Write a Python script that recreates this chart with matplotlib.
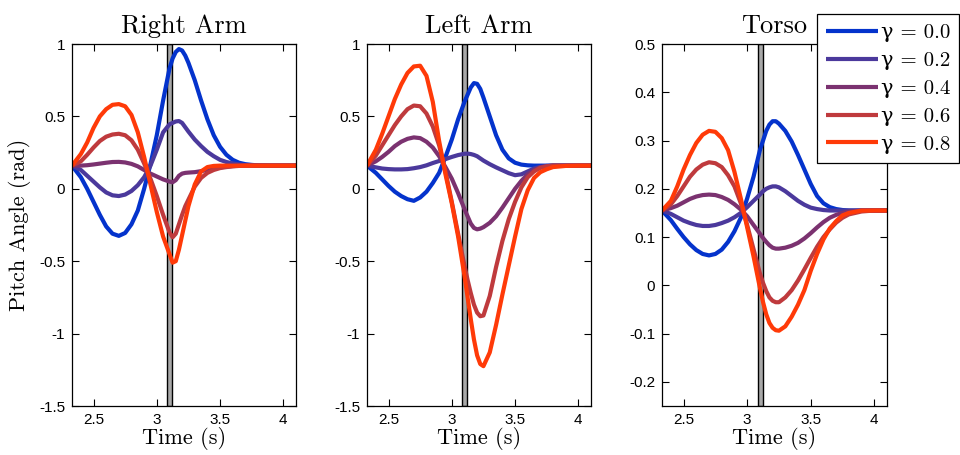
import numpy as np
import matplotlib
matplotlib.use("Agg")
import matplotlib.pyplot as plt

# sample times (s) shared by every curve
time = [2.33, 2.40, 2.45, 2.50, 2.55, 2.60, 2.65, 2.70, 2.75, 2.80, 2.85, 2.90,
        2.95, 3.00, 3.05, 3.10, 3.125, 3.15, 3.175, 3.20, 3.225, 3.25, 3.30, 3.35,
        3.40, 3.45, 3.50, 3.55, 3.60, 3.65, 3.70, 3.75, 3.80, 3.90, 4.00, 4.10]

gammas = ["0.0", "0.2", "0.4", "0.6", "0.8"]
colors = ["#0433cc", "#4b399c", "#7b3270", "#bf3a3d", "#ff3a08"]

# pitch angle (rad), one row per gamma
right_arm = [
    [0.16, 0.08, 0.0, -0.09, -0.18, -0.26, -0.31, -0.325, -0.305, -0.245, -0.15, 0.0,
     0.17, 0.37, 0.61, 0.83, 0.90, 0.945, 0.965, 0.955, 0.92, 0.87, 0.75, 0.61,
     0.48, 0.37, 0.29, 0.235, 0.20, 0.18, 0.17, 0.165, 0.162, 0.16, 0.16, 0.16],
    [0.16, 0.13, 0.09, 0.05, 0.01, -0.025, -0.045, -0.05, -0.04, -0.015, 0.025, 0.08,
     0.16, 0.27, 0.39, 0.445, 0.455, 0.465, 0.468, 0.455, 0.425, 0.395, 0.34, 0.295,
     0.255, 0.225, 0.20, 0.185, 0.175, 0.168, 0.163, 0.161, 0.16, 0.16, 0.16, 0.16],
    [0.16, 0.16, 0.163, 0.168, 0.174, 0.18, 0.185, 0.186, 0.182, 0.172, 0.155, 0.13,
     0.105, 0.085, 0.065, 0.05, 0.045, 0.06, 0.09, 0.105, 0.11, 0.112, 0.115, 0.122,
     0.13, 0.14, 0.148, 0.153, 0.157, 0.159, 0.16, 0.16, 0.16, 0.16, 0.16, 0.16],
    [0.16, 0.19, 0.235, 0.285, 0.33, 0.36, 0.375, 0.38, 0.37, 0.335, 0.27, 0.175,
     0.07, -0.05, -0.18, -0.30, -0.335, -0.31, -0.245, -0.18, -0.12, -0.075, 0.015, 0.075,
     0.11, 0.13, 0.143, 0.15, 0.155, 0.158, 0.16, 0.16, 0.16, 0.16, 0.16, 0.16],
    [0.16, 0.24, 0.32, 0.42, 0.50, 0.55, 0.58, 0.585, 0.57, 0.51, 0.39, 0.22,
     0.03, -0.16, -0.33, -0.45, -0.51, -0.50, -0.42, -0.32, -0.22, -0.12, 0.03, 0.12,
     0.15, 0.158, 0.16, 0.16, 0.16, 0.16, 0.16, 0.16, 0.16, 0.16, 0.16, 0.16],
]

left_arm = [
    [0.16, 0.11, 0.065, 0.02, -0.02, -0.05, -0.072, -0.083, -0.06, -0.02, 0.04, 0.11,
     0.22, 0.34, 0.48, 0.60, 0.65, 0.70, 0.73, 0.725, 0.69, 0.63, 0.50, 0.37,
     0.27, 0.21, 0.18, 0.167, 0.162, 0.16, 0.16, 0.16, 0.16, 0.16, 0.16, 0.16],
    [0.16, 0.148, 0.14, 0.136, 0.134, 0.134, 0.136, 0.142, 0.15, 0.162, 0.178, 0.192,
     0.205, 0.22, 0.233, 0.242, 0.243, 0.24, 0.234, 0.225, 0.21, 0.195, 0.17, 0.148,
     0.128, 0.108, 0.094, 0.10, 0.12, 0.14, 0.152, 0.158, 0.16, 0.16, 0.16, 0.16],
    [0.16, 0.19, 0.22, 0.255, 0.295, 0.325, 0.345, 0.355, 0.35, 0.325, 0.285, 0.225,
     0.15, 0.07, -0.03, -0.14, -0.19, -0.24, -0.27, -0.28, -0.275, -0.265, -0.235, -0.19,
     -0.13, -0.065, 0.0, 0.055, 0.10, 0.13, 0.148, 0.156, 0.16, 0.16, 0.16, 0.16],
    [0.16, 0.23, 0.30, 0.37, 0.44, 0.50, 0.55, 0.575, 0.57, 0.52, 0.43, 0.30,
     0.12, -0.09, -0.31, -0.53, -0.63, -0.72, -0.80, -0.855, -0.88, -0.875, -0.74, -0.54,
     -0.36, -0.21, -0.09, 0.01, 0.08, 0.12, 0.145, 0.155, 0.16, 0.16, 0.16, 0.16],
    [0.16, 0.27, 0.38, 0.50, 0.62, 0.72, 0.80, 0.845, 0.85, 0.78, 0.60, 0.33,
     0.10, -0.10, -0.33, -0.60, -0.75, -0.90, -1.04, -1.15, -1.21, -1.225, -1.13, -0.94,
     -0.73, -0.53, -0.33, -0.14, -0.01, 0.075, 0.115, 0.135, 0.15, 0.158, 0.16, 0.16],
]

torso = [
    [0.155, 0.135, 0.117, 0.10, 0.085, 0.073, 0.065, 0.062, 0.065, 0.074, 0.09, 0.112,
     0.14, 0.18, 0.225, 0.28, 0.30, 0.32, 0.333, 0.34, 0.34, 0.335, 0.32, 0.298,
     0.27, 0.24, 0.21, 0.185, 0.17, 0.162, 0.158, 0.156, 0.155, 0.155, 0.155, 0.155],
    [0.155, 0.148, 0.141, 0.134, 0.129, 0.125, 0.123, 0.123, 0.125, 0.129, 0.134, 0.141,
     0.15, 0.162, 0.175, 0.188, 0.195, 0.2, 0.203, 0.205, 0.205, 0.203, 0.195, 0.185,
     0.175, 0.167, 0.161, 0.158, 0.156, 0.155, 0.155, 0.155, 0.155, 0.155, 0.155, 0.155],
    [0.155, 0.16, 0.165, 0.172, 0.179, 0.184, 0.187, 0.188, 0.187, 0.183, 0.177, 0.168,
     0.157, 0.143, 0.125, 0.107, 0.098, 0.09, 0.083, 0.078, 0.076, 0.076, 0.078, 0.082,
     0.088, 0.097, 0.108, 0.12, 0.131, 0.14, 0.146, 0.15, 0.153, 0.155, 0.155, 0.155],
    [0.155, 0.168, 0.185, 0.205, 0.225, 0.24, 0.25, 0.255, 0.253, 0.245, 0.228, 0.205,
     0.17, 0.125, 0.075, 0.025, 0.005, -0.012, -0.025, -0.032, -0.035, -0.035, -0.025, -0.01,
     0.01, 0.033, 0.057, 0.08, 0.10, 0.116, 0.13, 0.14, 0.147, 0.153, 0.155, 0.155],
    [0.155, 0.175, 0.205, 0.24, 0.27, 0.295, 0.312, 0.32, 0.318, 0.305, 0.28, 0.235,
     0.18, 0.12, 0.06, -0.005, -0.035, -0.06, -0.078, -0.088, -0.093, -0.094, -0.085, -0.065,
     -0.04, -0.01, 0.03, 0.065, 0.095, 0.118, 0.133, 0.145, 0.15, 0.155, 0.155, 0.155],
]

titles = ["Right Arm", "Left Arm", "Torso"]
x_ticks = [2.5, 3, 3.5, 4]
x_ticklabels = ["2.5", "3", "3.5", "4"]
arm_yticks = [-1.5, -1, -0.5, 0, 0.5, 1]
arm_yticklabels = ["-1.5", "-1", "-0.5", "0", "0.5", "1"]
torso_yticks = [-0.2, -0.1, 0, 0.1, 0.2, 0.3, 0.4, 0.5]
torso_yticklabels = ["-0.2", "-0.1", "0", "0.1", "0.2", "0.3", "0.4", "0.5"]
band = (3.082, 3.124)

serif = ["cmr10", "DejaVu Serif"]
tick_font = "Liberation Sans"

W, H = 960, 455
fig = plt.figure(figsize=(W / 100, H / 100), dpi=100)

boxes = [(72, 296), (367, 591), (662, 887)]
top, bottom = 44, 406
panels = [right_arm, left_arm, torso]
ylims = [(-1.5, 1), (-1.5, 1), (-0.25, 0.5)]

axes = []
for i, (x0, x1) in enumerate(boxes):
    ax = fig.add_axes([x0 / W, 1 - bottom / H, (x1 - x0) / W, (bottom - top) / H])
    axes.append(ax)
    # grey marker band behind the curves
    ax.axvspan(band[0], band[1], facecolor="#a8a8a8", edgecolor="black", lw=1.0, zorder=1)
    for vals, c, g in zip(panels[i], colors, gammas):
        ax.plot(time, vals, color=c, lw=3, label="\u03b3 = " + g, zorder=2,
                solid_joinstyle="round", solid_capstyle="butt")
    ax.set_xlim(2.33, 4.10)
    ax.set_ylim(*ylims[i])
    ax.set_xticks(x_ticks)
    ax.set_xticklabels(x_ticklabels)
    if i < 2:
        ax.set_yticks(arm_yticks)
        ax.set_yticklabels(arm_yticklabels)
    else:
        ax.set_yticks(torso_yticks)
        ax.set_yticklabels(torso_yticklabels)
    ax.tick_params(direction="in", top=True, right=True, length=5, width=0.8,
                   labelsize=11, pad=5)
    for lab in ax.get_xticklabels() + ax.get_yticklabels():
        lab.set_family(tick_font)
    for sp in ax.spines.values():
        sp.set_linewidth(0.9)
        sp.set_zorder(4)
    ax.set_title(titles[i], family=serif, fontsize=19, pad=8)
    ax.set_xlabel("Time (s)", family=serif, fontsize=16, labelpad=0)

axes[0].set_ylabel("Pitch Angle (rad)", family=serif, fontsize=16, labelpad=6)

handles, labels = axes[2].get_legend_handles_labels()
leg = fig.legend(handles, labels, loc="upper left",
                 bbox_to_anchor=(817 / W, 1 - 14 / H), bbox_transform=fig.transFigure,
                 prop=dict(family=serif, size=15), frameon=True, fancybox=False,
                 edgecolor="black", framealpha=1, borderaxespad=0, borderpad=0.45,
                 labelspacing=0.45, handlelength=2.5, handletextpad=0.1)
leg.get_frame().set_linewidth(0.9)

fig.savefig("out.png", dpi=100)
